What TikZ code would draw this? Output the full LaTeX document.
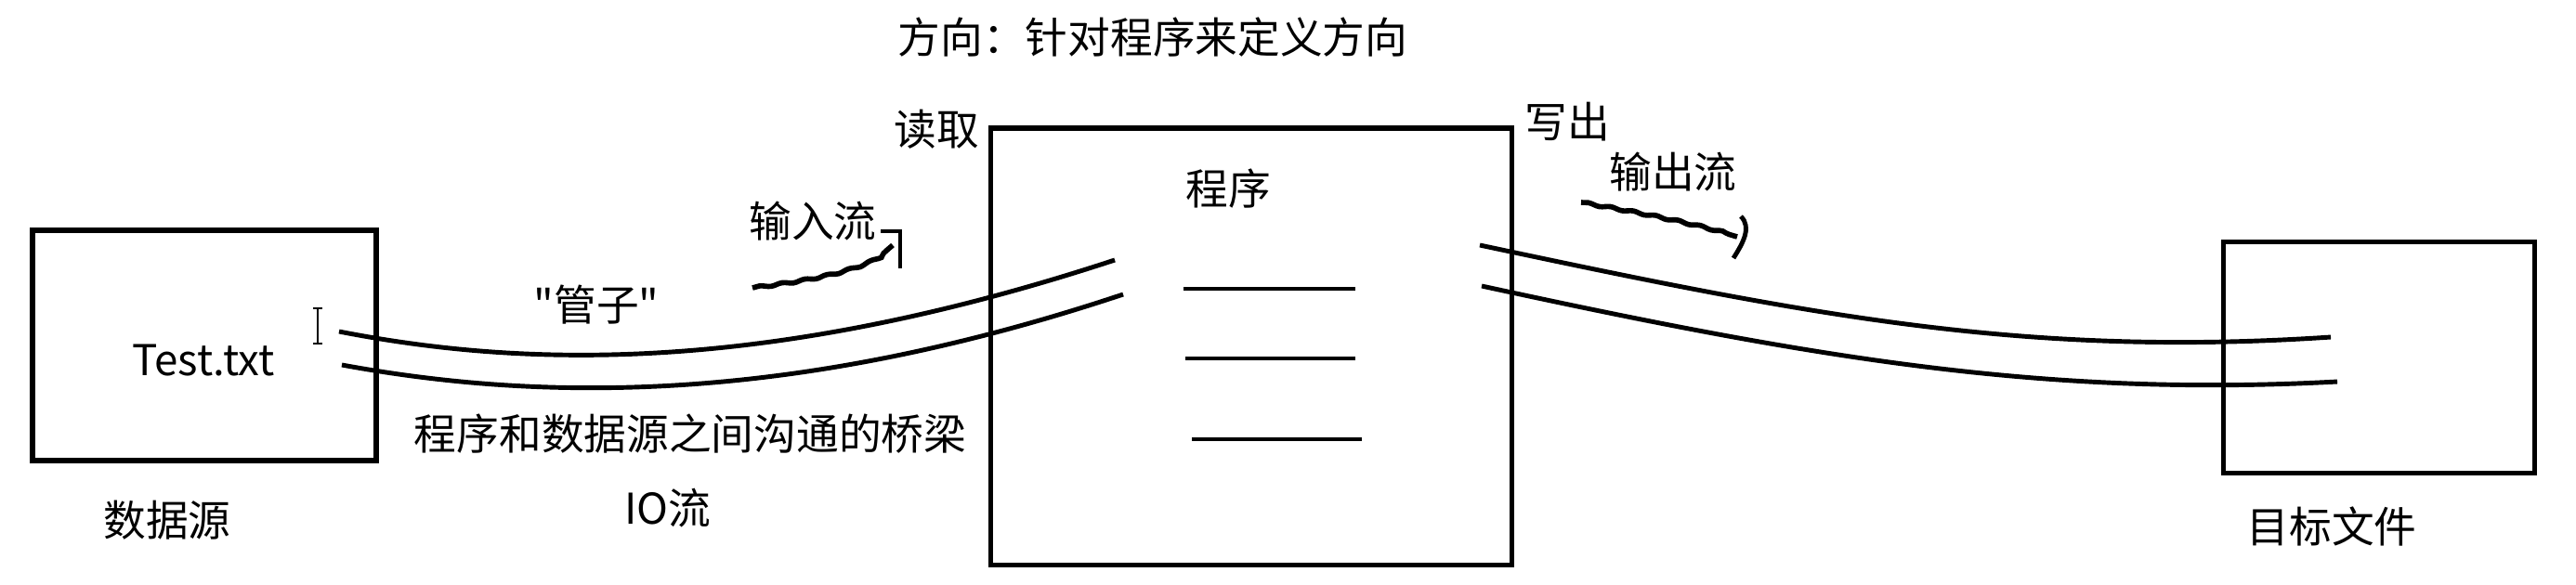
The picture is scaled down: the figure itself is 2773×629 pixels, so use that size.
\documentclass[tikz,border=0pt]{standalone}
\usepackage{fontspec}
\newfontfamily\cjk{Noto Sans CJK SC}
\usetikzlibrary{decorations.pathmorphing}

\tikzset{
    scatola/.style={draw, line width=1.5pt, inner sep=0pt},
    testo/.style={inner sep=0pt, font=\cjk\fontsize{13}{15}\selectfont},
    tubo/.style={line width=1.4pt},
    freccia/.style={line width=1.6pt, decorate, decoration={snake, amplitude=0.3pt, segment length=7pt}},
}

\begin{document}
\begin{tikzpicture}[x=0.01cm, y=-0.01cm]
    % Parametri
    \pgfmathsetmacro{\cx}{342}
    \pgfmathsetmacro{\cya}{332}
    \pgfmathsetmacro{\cyb}{370}
    \useasboundingbox (0,0) rectangle (2773,629);
    % Scatole
    \node[scatola, minimum width=3.7cm, minimum height=2.48cm] (sorgente) at (220,372) {};
    \node[scatola, minimum width=5.6cm, minimum height=4.7cm] (programma) at (1347,373) {};
    \node[scatola, minimum width=3.35cm, minimum height=2.49cm] (destinazione) at (2561,385) {};
    % Testi
    \node[testo] (titolo) at (1241,40) {方向：针对程序来定义方向};
    \node[testo] (leggi) at (1008,139) {读取};
    \node[testo] (scrivi) at (1687,131) {写出};
    \node[testo] (nomeprog) at (1322,203) {程序};
    \node[testo] (ingresso) at (875,238) {输入流};
    \node[testo] (uscita) at (1801,185) {输出流};
    \node[testo] (tubi) at (642,328) {"管子"};
    \node[testo] (file) at (219,388) {Test.txt};
    \node[testo] (ponte) at (743,467) {程序和数据源之间沟通的桥梁};
    \node[testo] (io) at (719,547) {IO流};
    \node[testo] (nomesorg) at (180,560) {数据源};
    \node[testo] (nomedest) at (2510,567) {目标文件};
    % Cursore
    \draw[line width=0.5pt] (\cx,\cya) -- (\cx,\cyb);
    \draw[line width=0.5pt] (\cx-5,\cya) -- (\cx+5,\cya);
    \draw[line width=0.5pt] (\cx-5,\cyb) -- (\cx+5,\cyb);
    % Tubi
    \coordinate (ina) at (365,357);
    \coordinate (inb) at (1200,280);
    \coordinate (inc) at (368,393);
    \coordinate (ind) at (1209,317);
    \coordinate (outa) at (1593,264);
    \coordinate (outb) at (2509,363);
    \coordinate (outc) at (1595,308);
    \coordinate (outd) at (2516,411);
    \draw[tubo] (ina) .. controls (560,395) and (820,405) .. (inb);
    \draw[tubo] (inc) .. controls (570,430) and (840,440) .. (ind);
    \draw[tubo] (outa) .. controls (1950,340) and (2180,385) .. (outb);
    \draw[tubo] (outc) .. controls (1950,385) and (2200,428) .. (outd);
    % Righe del programma
    \foreach \xa/\xb/\y in {1274/1459/311, 1276/1459/386, 1283/1466/473}{
        \draw[tubo] (\xa,\y) -- (\xb,\y);
    }
    % Frecce
    \coordinate (fa) at (810,310);
    \coordinate (fb) at (961,264);
    \draw[freccia] (fa) .. controls (870,302) and (930,292) .. (fb);
    \draw[tubo] (948,249) -- (969,249) -- (969,289);
    \coordinate (fc) at (1702,218);
    \coordinate (fd) at (1870,255);
    \draw[freccia] (fc) .. controls (1760,228) and (1820,240) .. (fd);
    \draw[tubo] (1874,233) .. controls (1886,245) and (1876,262) .. (1866,278);
\end{tikzpicture}
\end{document}
